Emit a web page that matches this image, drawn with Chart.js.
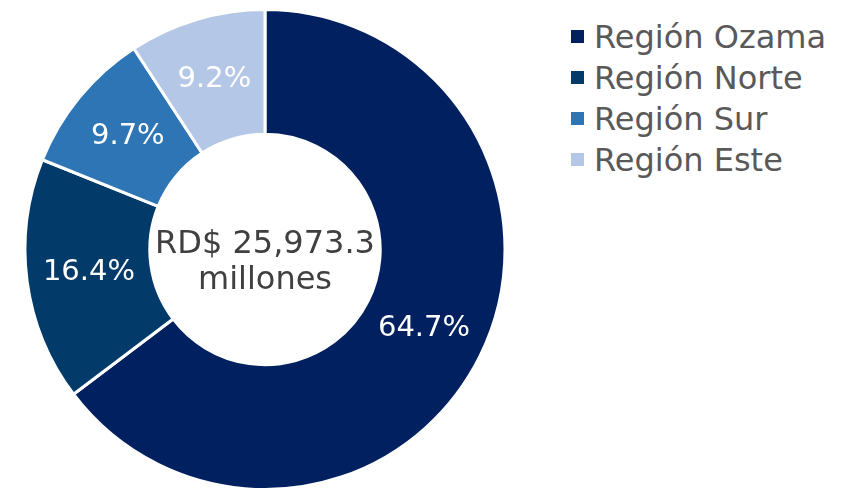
<!DOCTYPE html>
<html>
<head>
<meta charset="utf-8">
<script src="https://cdn.jsdelivr.net/npm/chart.js@4"></script>
<style>
  html, body { margin: 0; padding: 0; background: #fff; }
  #wrap { width: 849px; height: 491px; position: relative; }
  #chartBox { position: absolute; left: 0; top: 0; width: 530px; height: 491px; }
  #legend { position: absolute; left: 571px; top: 16px; font-family: 'DejaVu Sans', sans-serif; font-size: 32px; color: #595959; }
  .item { height: 41px; display: flex; align-items: center; white-space: nowrap; }
  .swatch { width: 13px; height: 13px; margin-right: 10px; flex: none; }
</style>
</head>
<body>
<div id="wrap">
  <div id="chartBox"><canvas id="regionChart"></canvas></div>
  <div id="legend"></div>
</div>
<script>
// Distribución por región (%)
const regions = ["Región Ozama", "Región Norte", "Región Sur", "Región Este"];
const shares = [64.7, 16.4, 9.7, 9.2];
const colors = ["#012060", "#023B6A", "#2E75B5", "#B4C7E7"];
const totalAmount = 25973.3;

const FONT = "'DejaVu Sans', sans-serif";

// Legend on the right
const legendEl = document.getElementById('legend');
regions.forEach((name, i) => {
    const row = document.createElement('div');
    row.className = 'item';
    row.innerHTML = `<span class="swatch" style="background:${colors[i]}"></span><span>${name}</span>`;
    legendEl.appendChild(row);
});

// Percent labels inside each slice
const sliceLabels = {
    id: 'sliceLabels',
    afterDatasetsDraw(chart) {
        const ctx = chart.ctx;
        const meta = chart.getDatasetMeta(0);
        ctx.save();
        ctx.fillStyle = '#ffffff';
        ctx.font = '400 29px ' + FONT;
        ctx.textAlign = 'center';
        ctx.textBaseline = 'middle';
        meta.data.forEach((arc, i) => {
            const p = arc.getCenterPoint();
            ctx.fillText(shares[i].toFixed(1) + '%', p.x, p.y);
        });
        ctx.restore();
    }
};

// Total in the hole
const centerText = {
    id: 'centerText',
    afterDraw(chart) {
        const ctx = chart.ctx;
        const arc = chart.getDatasetMeta(0).data[0];
        ctx.save();
        ctx.fillStyle = '#404040';
        ctx.font = '400 32px ' + FONT;
        ctx.textAlign = 'center';
        ctx.textBaseline = 'alphabetic';
        const amt = totalAmount.toLocaleString('en-US', { minimumFractionDigits: 1 });
        ctx.fillText('RD$ ' + amt, arc.x, arc.y + 3);
        ctx.fillText('millones', arc.x, arc.y + 39);
        ctx.restore();
    }
};

new Chart(document.getElementById('regionChart'), {
    type: 'doughnut',
    data: {
        labels: regions,
        datasets: [{
            data: shares,
            backgroundColor: colors,
            borderColor: '#ffffff',
            borderWidth: 3
        }]
    },
    options: {
        responsive: true,
        maintainAspectRatio: false,
        animation: false,
        cutout: '48%',
        layout: { padding: { top: 8, bottom: 0, left: 0, right: 0 } },
        plugins: {
            tooltip: { enabled: false },
            legend: { display: false }
        }
    },
    plugins: [sliceLabels, centerText]
});
</script>
</body>
</html>
